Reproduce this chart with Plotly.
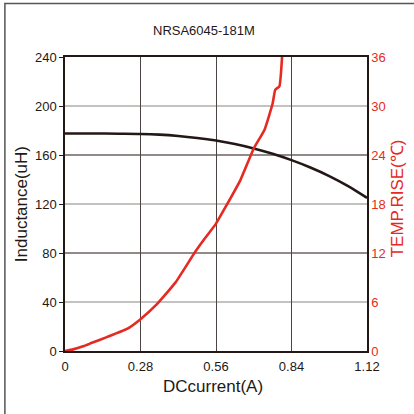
import plotly.graph_objects as go

# Inductance curve (left axis)
ind_current = [0, 0.1, 0.2, 0.28, 0.35, 0.42, 0.49, 0.56, 0.63, 0.7, 0.77, 0.84, 0.91, 0.98, 1.05, 1.12]
inductance = [177.6, 177.6, 177.4, 177.2, 176.6, 175.5, 173.9, 171.8, 169.0, 165.4, 161.0, 155.8, 149.8, 142.8, 134.6, 125.0]

# Temperature rise curve (right axis)
temp_current = [0, 0.03, 0.07, 0.1, 0.155, 0.23, 0.28, 0.34, 0.41, 0.48, 0.51, 0.56, 0.6, 0.65, 0.7, 0.74, 0.77, 0.78, 0.795, 0.805]
temp_rise = [0, 0.2, 0.6, 1.0, 1.7, 2.7, 3.9, 5.7, 8.4, 12.0, 13.4, 15.6, 17.9, 20.9, 24.8, 27.1, 30.3, 32.0, 32.4, 36.0]

x_ticks = [0, 0.28, 0.56, 0.84, 1.12]
x_ticktext = ["0", "0.28", "0.56", "0.84", "1.12"]
y_ticks = [0, 40, 80, 120, 160, 200, 240]
y2_ticks = [0, 6, 12, 18, 24, 30, 36]
dark_grid = [80, 160]
light_grid = [40, 120, 200]

RED = "#e52a22"
FONT = "Liberation Sans, Arial, sans-serif"

fig = go.Figure()
fig.add_trace(go.Scatter(x=ind_current, y=inductance, mode="lines",
                         line=dict(color="#231815", width=2.6, shape="spline", smoothing=0.8),
                         yaxis="y", showlegend=False))
fig.add_trace(go.Scatter(x=temp_current, y=temp_rise, mode="lines",
                         line=dict(color=RED, width=2.6, shape="spline", smoothing=0.4),
                         yaxis="y2", showlegend=False))

shapes = []
for v in light_grid:
    shapes.append(dict(type="line", xref="paper", yref="y", x0=0, x1=1, y0=v, y1=v,
                       line=dict(color="#8a8683", width=1.2), layer="below"))
for v in dark_grid:
    shapes.append(dict(type="line", xref="paper", yref="y", x0=0, x1=1, y0=v, y1=v,
                       line=dict(color="#231815", width=1.2), layer="below"))
# outer frame of the image
shapes.append(dict(type="rect", xref="paper", yref="paper", x0=-0.199, x1=3, y0=-3, y1=1.182,
                   line=dict(color="#555", width=1.5), fillcolor="rgba(0,0,0,0)"))

fig.update_layout(
    width=414, height=414,
    margin=dict(l=65, r=47, t=57, b=63, autoexpand=False),
    paper_bgcolor="white", plot_bgcolor="white",
    font=dict(family=FONT, size=13, color="#231815"),
    shapes=shapes,
    xaxis=dict(range=[0, 1.12], tickvals=x_ticks, ticktext=x_ticktext,
               showgrid=True, gridcolor="#4a4542", gridwidth=1.2,
               showline=True, linecolor="#231815", linewidth=1.5, mirror=True,
               ticks="", zeroline=False, tickfont=dict(size=13), automargin=False,
               ticklabelstandoff=3),
    yaxis=dict(range=[0, 240], tickvals=y_ticks, showgrid=False,
               showline=True, linecolor="#231815", linewidth=1.5,
               ticks="outside", ticklen=4, tickcolor="#231815", zeroline=False,
               tickfont=dict(size=13), automargin=False),
    yaxis2=dict(range=[0, 36], tickvals=y2_ticks, overlaying="y", side="right",
                showgrid=False, showline=True, linecolor="#231815", linewidth=1.5,
                ticks="", zeroline=False, tickfont=dict(size=13, color=RED), automargin=False),
    annotations=[
        dict(text="NRSA6045-181M", xref="paper", yref="paper", x=0.46, y=1.09,
             showarrow=False, font=dict(size=13, color="#231815"),
             xanchor="center", yanchor="middle"),
        dict(text="DCcurrent(A)", xref="paper", yref="paper", x=0.49, y=-0.12,
             showarrow=False, font=dict(size=17, color="#231815"),
             xanchor="center", yanchor="middle"),
        dict(text="Inductance(uH)", xref="paper", yref="paper", x=-0.145, y=0.5,
             showarrow=False, textangle=-90, font=dict(size=17, color="#231815"),
             xanchor="center", yanchor="middle"),
        dict(text="TEMP.RISE(℃)", xref="paper", yref="paper", x=1.1, y=0.52,
             showarrow=False, textangle=-90, font=dict(size=17, color=RED),
             xanchor="center", yanchor="middle"),
    ],
)

fig.write_html("out.html", config={"displayModeBar": False},
               post_script="document.body.style.margin='0';")
